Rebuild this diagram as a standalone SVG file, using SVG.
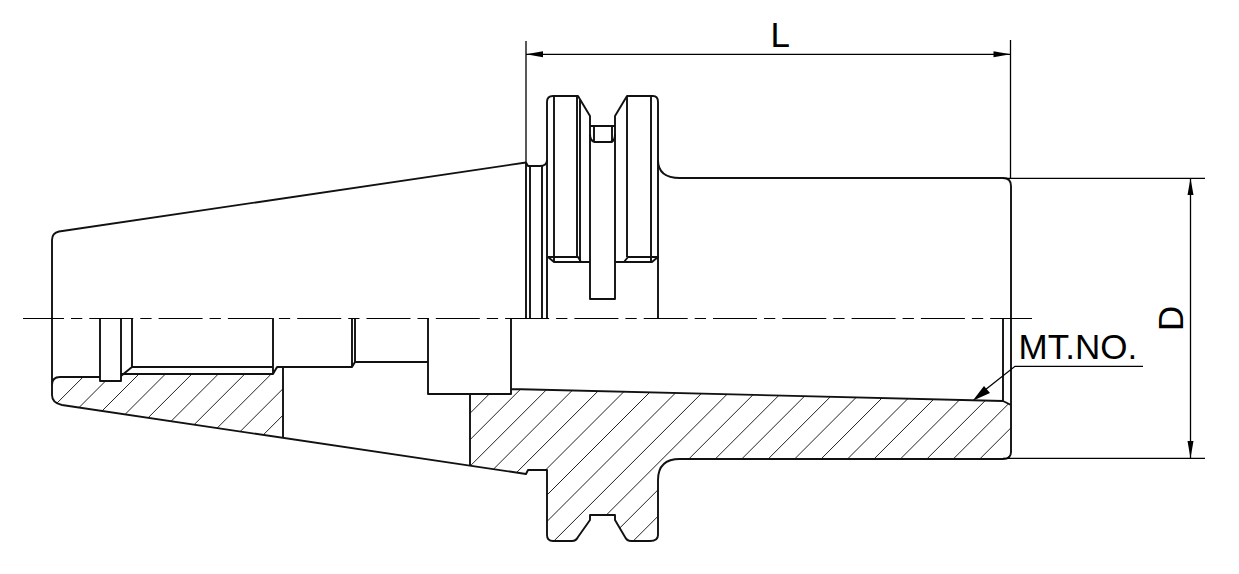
<svg xmlns="http://www.w3.org/2000/svg" width="1239" height="574" viewBox="0 0 1239 574">
<style>
.o{fill:none;stroke:#111;stroke-width:1.9;stroke-linejoin:round}
.h{fill:none;stroke:#222;stroke-width:1}
.d{fill:none;stroke:#000;stroke-width:1.3}
.c{fill:none;stroke:#000;stroke-width:1.2;stroke-dasharray:44 7 11.3 7;stroke-dashoffset:3}
.a{fill:#000}
text{font-family:"Liberation Sans",Arial,sans-serif;font-size:35px;fill:#000}
</style>
<defs>
<clipPath id="hatchArea">
<path d="M60 377H100V381H121V374H273L277 367H283V438L62 405Q52 403 52 395V385Q52 377 60 377Z"/>
<path d="M470 394H511V389L1003 401L1011 405V452Q1011 459 1003 459H680Q658 459 658 480V535Q658 541 650 541H631Q627 541 625 537L615 520V515H590V520L578 537Q576 541 572 541H553Q547 541 547 535V470H528L526 474L470 466Z"/>
</clipPath>
</defs>
<g id="hatching" clip-path="url(#hatchArea)">
<path class="h" d="M83.65 350l-200 200M110.1 350l-200 200M136.55 350l-200 200M163 350l-200 200M189.45 350l-200 200M215.9 350l-200 200M242.35 350l-200 200M268.8 350l-200 200M295.25 350l-200 200M321.7 350l-200 200M348.15 350l-200 200M374.6 350l-200 200M401.05 350l-200 200M427.5 350l-200 200M453.95 350l-200 200M480.4 350l-200 200M506.85 350l-200 200M533.3 350l-200 200M559.75 350l-200 200M586.2 350l-200 200M612.65 350l-200 200M639.1 350l-200 200M665.55 350l-200 200M692 350l-200 200M718.45 350l-200 200M744.9 350l-200 200M771.35 350l-200 200M797.8 350l-200 200M824.25 350l-200 200M850.7 350l-200 200M877.15 350l-200 200M903.6 350l-200 200M930.05 350l-200 200M956.5 350l-200 200M982.95 350l-200 200M1009.4 350l-200 200M1035.85 350l-200 200M1062.3 350l-200 200M1088.75 350l-200 200M1115.2 350l-200 200"/>
</g>
<g id="body">
<path class="o" d="M100 377H60Q52 377 52 385V395Q52 403 62 405L526 474L528 470H547V535Q547 541 553 541H572Q576 541 578 537L590 520V515H615V520L625 537Q627 541 631 541H650Q658 541 658 535V480Q658 459 680 459H1003Q1011 459 1011 452V186Q1011 178 1003 178H680Q658 178 658 160V102Q658 96 653 96H627L615 116V299H590V116L578 96H553Q547 96 547 102V160Q547 166 540 166H528L526 162.5L59 231.500Q52 233 52 240V385"/>
<path class="o" d="M100 318V381H121V318M132 318V367H273M121 376L132 367M121 374H273V318M273 374L277 367H352V318M355 318V362H428M352 367L355 362M428 318V394H511V318M511 389L1003 401V318M1003 401L1011 405M283 367V438M470 394V466"/>
<path class="o" d="M526 162.5V318M530 166V318M542 166V318M547 160V318M658 160V318"/>
<path class="o" d="M554 96V262M577 96V257M580 100V262M627 96V257M651 96V262"/>
<path class="o" d="M548 257H578L581 262H590M548 257L554 262H581M615 262H652L658 257H628L624 262"/>
<path class="o" d="M590 126H615M594 127V142H612V127M590 134Q590 142 596 142M615 134Q615 142 610 142"/>
</g>
<g id="connectors">
<path class="c" d="M23 318.500H1032"/>
<path class="d" d="M526 41V162M1010.500 40V178M526 54.300H1011M1003 178.300H1205M1003 458.300H1205M1190.500 178V458"/>
<path class="a" d="M526 54.300L543 51.300V57.300ZM1010.500 54.300L993.500 51.300V57.300ZM1190.500 178.300L1187.500 195H1193.500ZM1190.500 458.300L1187.500 441H1193.500Z"/>
<path class="d" d="M1143 366.300H1015L985 390"/>
<path class="a" d="M972.700 400.700L984 386L990 393Z"/>
</g>
<g id="labels">
<text x="770.500" y="46.700">L</text>
<text x="1018.500" y="359">MT.NO.</text>
<text transform="translate(1183 331) rotate(-90)">D</text>
</g>
</svg>
